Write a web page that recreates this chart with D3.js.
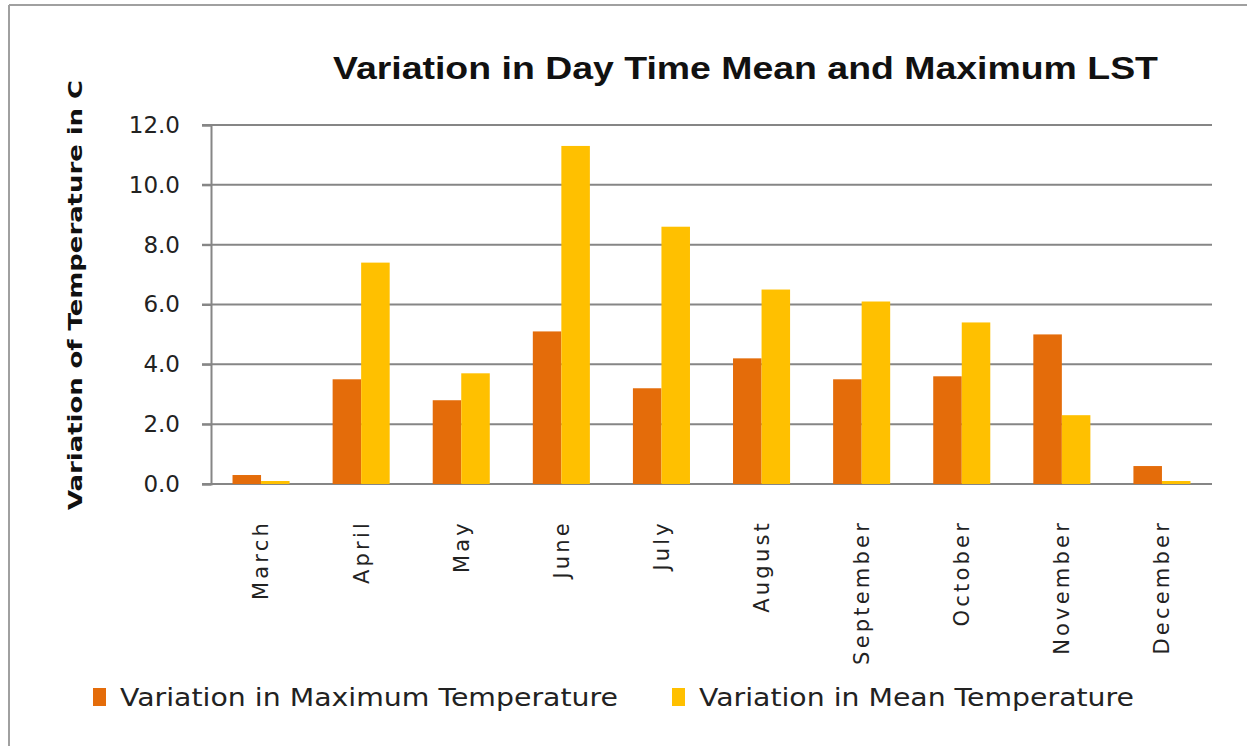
<!DOCTYPE html>
<html>
<head>
<meta charset="utf-8">
<script src="https://cdn.jsdelivr.net/npm/d3@7"></script>
<style>
  body { margin: 0; background: #fff; }
  svg { display: block; }
</style>
</head>
<body>
<div id="chart"></div>
<script>
// months along the x axis
var months = ["March", "April", "May", "June", "July", "August",
	"September", "October", "November", "December"]

// values (degrees C)
var maxVariation = [0.3, 3.5, 2.8, 5.1, 3.2, 4.2, 3.5, 3.6, 5.0, 0.6]
var meanVariation = [0.1, 7.4, 3.7, 11.3, 8.6, 6.5, 6.1, 5.4, 2.3, 0.1]

var seriesNames = ["Variation in Maximum Temperature", "Variation in Mean Temperature"]
var seriesColors = ["#E46C0A", "#FFC000"]
var yTicks = [0, 2, 4, 6, 8, 10, 12]

var width = 1247
var height = 746
// plot area edges
var plotLeft = 211, plotRight = 1212, plotTop = 125, plotBottom = 484

var svg = d3.select("#chart")
	.append("svg")
	.attr("width", width)
	.attr("height", height)

// frame of the chart area
svg.append("line").attr("x1", 9).attr("x2", width).attr("y1", 5).attr("y2", 5)
	.attr("stroke", "#a0a0a0").attr("stroke-width", 2)
svg.append("line").attr("x1", 9).attr("x2", 9).attr("y1", 5).attr("y2", height)
	.attr("stroke", "#a0a0a0").attr("stroke-width", 2)

var x = d3.scaleBand()
	.domain(months)
	.range([plotLeft, plotRight])
	.paddingInner(0.43)
	.paddingOuter(0.215)

var x1 = d3.scaleBand()
	.domain([0, 1])
	.range([0, x.bandwidth()])

var y = d3.scaleLinear()
	.domain([0, 12])
	.range([plotBottom, plotTop])

// gridlines
svg.append("g")
	.selectAll("line")
	.data(yTicks)
	.enter()
	.append("line")
	.attr("x1", plotLeft - 9)
	.attr("x2", plotRight)
	.attr("y1", function(d) { return y(d) })
	.attr("y2", function(d) { return y(d) })
	.attr("stroke", "#868686")
	.attr("stroke-width", 2)

// bars
var groups = svg.append("g")
	.selectAll("g")
	.data(months)
	.enter()
	.append("g")
	.attr("transform", function(d) { return "translate(" + x(d) + ",0)" })

groups.selectAll("rect")
	.data(function(d, i) { return [maxVariation[i], meanVariation[i]] })
	.enter()
	.append("rect")
	.attr("x", function(d, j) { return x1(j) })
	.attr("y", function(d) { return y(d) })
	.attr("width", x1.bandwidth())
	.attr("height", function(d) { return plotBottom - y(d) })
	.attr("fill", function(d, j) { return seriesColors[j] })

// y axis
var yAxis = svg.append("g")
	.attr("transform", "translate(" + plotLeft + ",0)")
	.call(d3.axisLeft(y).tickValues(yTicks).tickFormat(d3.format(".1f")).tickSize(9).tickPadding(22))
yAxis.select(".domain").attr("stroke", "#868686").attr("stroke-width", 2)
yAxis.selectAll(".tick line").attr("stroke", "#868686").attr("stroke-width", 2)
yAxis.selectAll("text")
	.attr("fill", "#222")
	.style("font-family", "'DejaVu Sans', sans-serif")
	.style("font-size", "23px")

// x axis (labels only, rotated)
var xAxis = svg.append("g")
	.attr("transform", "translate(0," + plotBottom + ")")
	.call(d3.axisBottom(x).tickSize(0).tickPadding(0))
xAxis.select(".domain").remove()
xAxis.selectAll("text")
	.attr("transform", "rotate(-90)")
	.attr("x", -36)
	.attr("y", 0)
	.attr("dy", "0.35em")
	.attr("fill", "#222")
	.style("text-anchor", "end")
	.style("font-family", "'DejaVu Sans', sans-serif")
	.style("font-size", "21px")
	.style("letter-spacing", "3.2px")

// title
svg.append("text")
	.attr("x", 333)
	.attr("y", 79)
	.attr("textLength", 825)
	.attr("lengthAdjust", "spacingAndGlyphs")
	.style("font-family", "'Liberation Sans Narrow', 'Liberation Sans', sans-serif")
	.style("font-weight", "bold")
	.style("font-size", "31px")
	.attr("fill", "#111")
	.text("Variation in Day Time Mean and Maximum LST")

// y axis title
svg.append("text")
	.attr("transform", "translate(82,510) rotate(-90)")
	.attr("textLength", 430)
	.attr("lengthAdjust", "spacingAndGlyphs")
	.style("font-family", "'DejaVu Sans', sans-serif")
	.style("font-weight", "bold")
	.style("font-size", "20px")
	.attr("fill", "#111")
	.text("Variation of Temperature in C")

// legend
var legendX = [93, 672]
var legend = svg.append("g")
	.selectAll("g")
	.data(seriesNames)
	.enter()
	.append("g")
	.attr("transform", function(d, i) { return "translate(" + legendX[i] + ",697)" })

legend.append("rect")
	.attr("x", 0)
	.attr("y", -9)
	.attr("width", 13)
	.attr("height", 18)
	.attr("fill", function(d, i) { return seriesColors[i] })

legend.append("text")
	.attr("x", 27)
	.attr("y", 0)
	.attr("dy", "0.35em")
	.attr("textLength", function(d, i) { return i == 0 ? 498 : 435 })
	.attr("lengthAdjust", "spacingAndGlyphs")
	.style("font-family", "'DejaVu Sans', sans-serif")
	.style("font-size", "25px")
	.attr("fill", "#222")
	.text(function(d) { return d })
</script>
</body>
</html>
